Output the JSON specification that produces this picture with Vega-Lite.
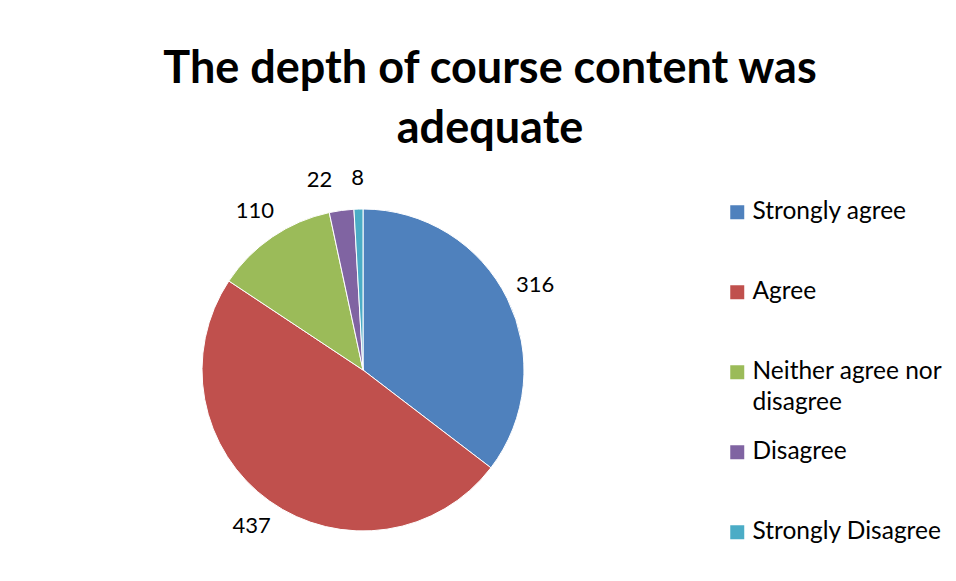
{
  "$schema": "https://vega.github.io/schema/vega-lite/v6.json",
  "autosize": "none",
  "width": 322,
  "height": 322,
  "padding": {"left": 202, "top": 209, "right": 432, "bottom": 50},
  "background": "white",
  "config": {
    "view": {"stroke": null},
    "style": {"guide-label": {"lineHeight": 31}}
  },
  "title": {
    "text": ["The depth of course content was", "adequate"],
    "font": "Lato",
    "fontWeight": "bold",
    "fontSize": 45,
    "lineHeight": 60,
    "color": "#000000",
    "anchor": "middle",
    "dx": 127,
    "offset": 15
  },
  "data": {
    "values": [
      {"response": "Strongly agree", "count": 316},
      {"response": "Agree", "count": 437},
      {"response": "Neither agree nor disagree", "count": 110},
      {"response": "Disagree", "count": 22},
      {"response": "Strongly Disagree", "count": 8}
    ]
  },
  "transform": [
    {"calculate": "indexof(['Strongly agree', 'Agree', 'Neither agree nor disagree', 'Disagree', 'Strongly Disagree'], datum.response)", "as": "rank"}
  ],
  "encoding": {
    "theta": {"field": "count", "type": "quantitative", "stack": true},
    "order": {"field": "rank", "type": "quantitative", "sort": "ascending"},
    "color": {
      "field": "response",
      "type": "nominal",
      "sort": ["Strongly agree", "Agree", "Neither agree nor disagree", "Disagree", "Strongly Disagree"],
      "scale": {
        "domain": ["Strongly agree", "Agree", "Neither agree nor disagree", "Disagree", "Strongly Disagree"],
        "range": ["#4F81BD", "#C0504D", "#9BBB59", "#8064A2", "#4BACC6"]
      },
      "legend": {
        "title": null,
        "orient": "none",
        "legendX": 523,
        "legendY": -9,
        "symbolType": "square",
        "symbolSize": 196,
        "symbolStrokeWidth": 0,
        "labelFont": "Lato",
        "labelFontSize": 24.5,
        "labelColor": "#000000",
        "labelOffset": 3,
        "labelLimit": 300,
        "labelExpr": "datum.label == 'Neither agree nor disagree' ? ['Neither agree nor', 'disagree'] : datum.label",
        "gridAlign": "all",
        "rowPadding": 24
      }
    }
  },
  "layer": [
    {
      "mark": {"type": "arc", "stroke": "white", "strokeWidth": 1}
    },
    {
      "mark": {
        "type": "text",
        "radius": 192,
        "font": "Lato",
        "fontSize": 22,
        "color": "#000000",
        "dx": {"expr": "datum.response == 'Disagree' ? -18 : 0"}
      },
      "encoding": {
        "text": {"field": "count", "type": "quantitative"},
        "color": {"value": "#000000"}
      }
    }
  ]
}
